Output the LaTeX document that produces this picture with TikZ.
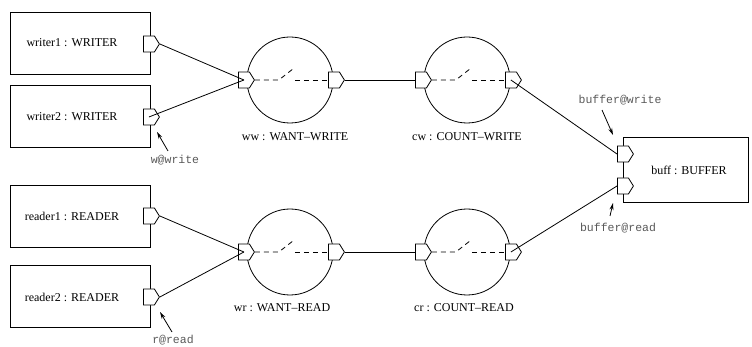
\documentclass[tikz,border=0pt]{standalone}
\usepackage{fontspec}
\setmainfont{Liberation Serif}
\newfontfamily\portfont{Liberation Mono}
\usetikzlibrary{shapes.symbols,arrows.meta}
\begin{document}
\begin{tikzpicture}[x=1pt,y=-1pt,line width=0.8pt,
  comp/.style={draw,fill=white,minimum width=140pt,minimum height=62pt,inner sep=0pt},
  port/.style={shape=signal,signal to=east,draw,fill=white,minimum width=16pt,minimum height=16pt,inner sep=0pt,signal pointer angle=116,anchor=west},
  conn/.style={circle,draw,minimum size=86pt,inner sep=0pt},
  lab/.style={font=\fontsize{12}{14}\selectfont,inner sep=0pt},
  plab/.style={font=\portfont\fontsize{11.5}{13}\selectfont,text=black!65,inner sep=0pt},
  sw/.style={dash pattern=on 5pt off 4pt},
  ptr/.style={-{Stealth[length=7pt,width=4pt]}}]
\useasboundingbox (0,0) rectangle (752,347);

% components
\node[comp] (w1) at (80,43) {};
\node[comp] (w2) at (80,116.5) {};
\node[comp] (r1) at (80,216.5) {};
\node[comp] (r2) at (80,296) {};
\node[draw,fill=white,minimum width=125pt,minimum height=65pt,inner sep=0pt] (buff) at (685.5,169.5) {};

\node[lab] (w1t) at (72,43) {writer1 : WRITER};
\node[lab] (w2t) at (72,117) {writer2 : WRITER};
\node[lab] (r1t) at (72,216) {reader1 : READER};
\node[lab] (r2t) at (72,297) {reader2 : READER};
\node[lab] (bt) at (689,170) {buff : BUFFER};

% connectors (circles)
\node[conn] (ww) at (290,80) {};
\node[conn] (cw) at (467,80) {};
\node[conn] (wr) at (290,252) {};
\node[conn] (cr) at (467,252) {};

\node[lab] (wwt) at (295,137) {ww : WANT--WRITE};
\node[lab] (cwt) at (467,137) {cw : COUNT--WRITE};
\node[lab] (wrt) at (282,308) {wr : WANT--READ};
\node[lab] (crt) at (464,308) {cr : COUNT--READ};

% ports
\node[port] (w1p) at (143,44) {};
\node[port] (w2p) at (143,117) {};
\node[port] (r1p) at (143,216) {};
\node[port] (r2p) at (143,297) {};
\node[port] (wwin) at (238,80) {};
\node[port] (wwout) at (328,80) {};
\node[port] (cwin) at (415,80) {};
\node[port] (cwout) at (505,80) {};
\node[port] (wrin) at (238,252) {};
\node[port] (wrout) at (328,252) {};
\node[port] (crin) at (415,252) {};
\node[port] (crout) at (505,252) {};
\node[port] (bw) at (617,154) {};
\node[port] (br) at (617,186) {};

% internal switches
\foreach \c in {ww,cw,wr,cr}{
  \draw[sw] (\c in.east) -- ([xshift=24pt]\c in.east) -- ([xshift=38pt,yshift=11pt]\c in.east);
  \draw[sw] ([xshift=40pt]\c in.east) -- (\c out.west);
}

% links
\draw (w1p.east) -- (wwin.center);
\draw (w2p.center) -- (wwin.center);
\draw (wwout.east) -- (cwin.west);
\draw (cwout.center) -- (bw.west);
\draw (r1p.east) -- (wrin.center);
\draw (r2p.east) -- (wrin.center);
\draw (wrout.east) -- (crin.west);
\draw (crout.center) -- (br.west);

% port labels
\node[plab] (wl) at (175,160) {w@write};
\node[plab] (rl) at (173,340) {r@read};
\node[plab] (bwl) at (620,100) {buffer@write};
\node[plab] (brl) at (618,228) {buffer@read};
\coordinate (wtip) at (157,132);
\coordinate (rtip) at (160,312);
\coordinate (bwtip) at (613,135);
\coordinate (brtip) at (613,203);
\draw[ptr] (168,151) -- (wtip);
\draw[ptr] (172,332) -- (rtip);
\draw[ptr] (602,110) -- (bwtip);
\draw[ptr] (610,216) -- (brtip);
\end{tikzpicture}
\end{document}
